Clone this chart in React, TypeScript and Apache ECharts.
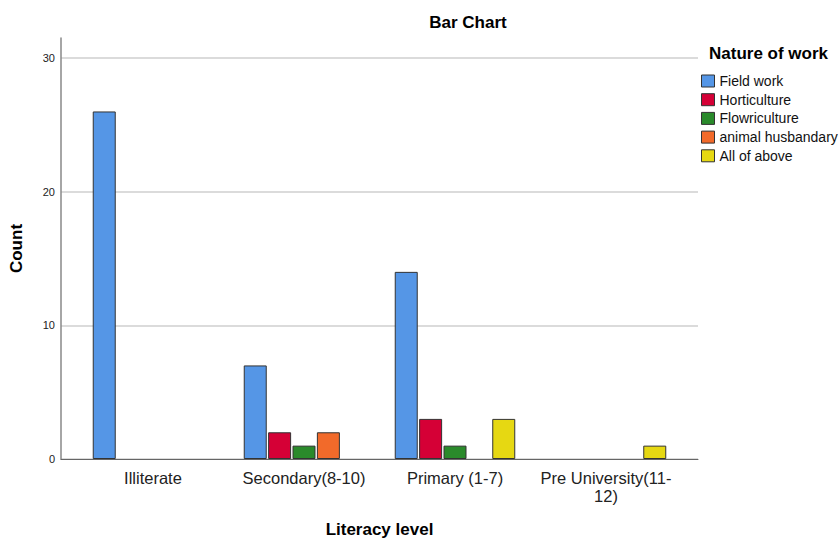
import React, { useEffect, useRef } from "react";
import * as echarts from "echarts";

const categories = ["Illiterate", "Secondary(8-10)", "Primary (1-7)", "Pre University(11-12)"];
const seriesNames = ["Field work", "Horticulture", "Flowriculture", "animal husbandary", "All of above"];
const fieldWork = [26, 7, 14, 0];
const horticulture = [0, 2, 3, 0];
const flowriculture = [0, 1, 1, 0];
const animalHusbandary = [0, 2, 0, 0];
const allOfAbove = [0, 0, 3, 1];
const yTicks = [0, 10, 20, 30];
const colors = ["#5596E6", "#D50036", "#2A8A2B", "#F26A2A", "#E6D812"];

const FONT = "'Liberation Sans', Arial, sans-serif";

export default function App() {
  const ref = useRef<HTMLDivElement>(null);
  useEffect(() => {
    if (!ref.current) return;
    const chart = echarts.init(ref.current, undefined, { renderer: "svg" });
    const values = [fieldWork, horticulture, flowriculture, animalHusbandary, allOfAbove];
    const yMax = yTicks[yTicks.length - 1];
    const B = 80;
    chart.setOption({
      animation: false,
      textStyle: { fontFamily: FONT },
      title: [
        {
          text: "Bar Chart",
          left: 463,
          top: 9,
          textAlign: "center",
          textStyle: { fontFamily: FONT, fontSize: 17, fontWeight: "bold", color: "#000" },
        },
        {
          text: "Nature of work",
          left: 704,
          top: 40,
          textStyle: { fontFamily: FONT, fontSize: 17, fontWeight: "bold", color: "#000" },
        },
      ],
      legend: {
        orient: "vertical",
        left: 696,
        top: 69,
        icon: "rect",
        itemWidth: 13,
        itemHeight: 12,
        itemGap: 4.7,
        data: seriesNames,
        itemStyle: { borderColor: "#333", borderWidth: 1 },
        textStyle: { fontFamily: FONT, fontSize: 14, color: "#111", lineHeight: 14 },
      },
      grid: [
        { left: 61, width: 637, top: 58, bottom: B, outerBoundsMode: "none", containLabel: false },
        { left: 61, width: 637, top: 38, bottom: B, outerBoundsMode: "none", containLabel: false },
        { left: 77.5, width: 604, top: 58, bottom: B, outerBoundsMode: "none", containLabel: false },
      ],
      xAxis: [
        {
          gridIndex: 0,
          type: "value",
          min: 0,
          max: 1,
          axisLine: { show: true, lineStyle: { color: "#666", width: 1 } },
          axisTick: { show: false },
          axisLabel: { show: false },
          splitLine: { show: false },
          name: "Literacy level",
          nameLocation: "middle",
          nameGap: 62,
          nameTextStyle: { fontFamily: FONT, fontSize: 17, fontWeight: "bold", color: "#000" },
        },
        {
          gridIndex: 1,
          type: "value",
          show: false,
        },
        {
          gridIndex: 2,
          type: "category",
          data: categories,
          axisLine: { show: false },
          axisTick: { show: false },
          axisLabel: {
            margin: 10,
            fontFamily: FONT,
            fontSize: 16.5,
            lineHeight: 18,
            color: "#222",
            interval: 0,
            formatter: (v: string) => v.replace("(11-", "(11-\n"),
          },
        },
      ],
      yAxis: [
        {
          gridIndex: 0,
          type: "value",
          min: 0,
          max: yMax,
          interval: 10,
          axisLine: { show: false },
          axisTick: { show: false },
          axisLabel: { margin: 6, fontFamily: FONT, fontSize: 11, color: "#222" },
          splitLine: { show: true, lineStyle: { color: "#cfcfcf", width: 1.5 } },
        },
        {
          gridIndex: 1,
          type: "value",
          min: 0,
          max: yMax + 1.5,
          axisLine: { show: true, lineStyle: { color: "#888", width: 1.5 } },
          axisTick: { show: false },
          axisLabel: { show: false },
          splitLine: { show: false },
          name: "Count",
          nameLocation: "middle",
          nameGap: 36,
          nameTextStyle: { fontFamily: FONT, fontSize: 17, fontWeight: "bold", color: "#000" },
        },
        {
          gridIndex: 2,
          type: "value",
          min: 0,
          max: yMax,
          show: false,
        },
      ],
      series: seriesNames.map((name, i) => ({
        name,
        type: "bar",
        xAxisIndex: 2,
        yAxisIndex: 2,
        barWidth: 23,
        barGap: "6%",
        itemStyle: { color: colors[i], borderColor: "#333", borderWidth: 1 },
        data: values[i].map((v) => (v === 0 ? "-" : v)),
      })),
    });
    return () => chart.dispose();
  }, []);
  return (
    <div
      ref={ref}
      style={{ position: "absolute", left: 0, top: 0, width: 840, height: 539 }}
    />
  );
}
